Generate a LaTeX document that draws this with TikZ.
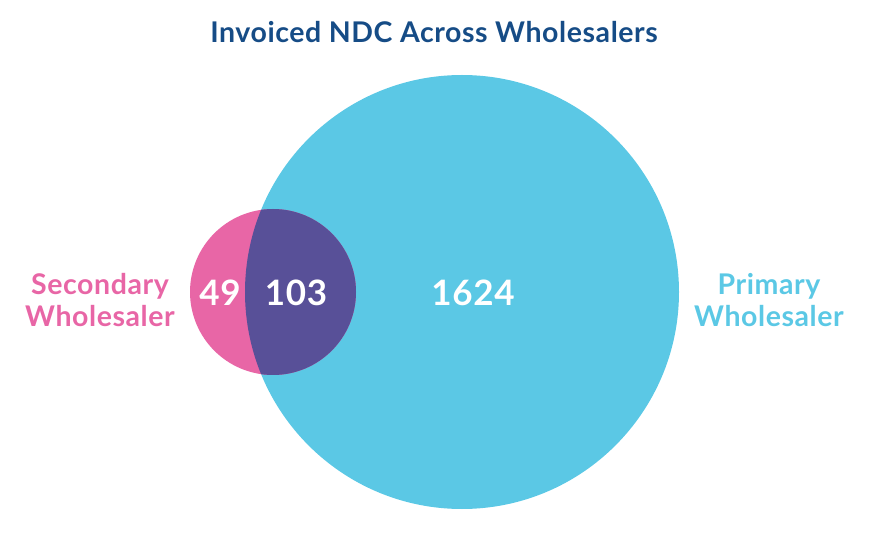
\documentclass[tikz,border=0pt]{standalone}
\usepackage{fontspec}
\setmainfont{Lato}[LetterSpace=2]
\usepackage{tikz}
\usetikzlibrary{positioning}
\definecolor{primblue}{RGB}{91,200,229}
\definecolor{secpink}{RGB}{232,102,166}
\definecolor{overlap}{RGB}{88,80,152}
\definecolor{titleblue}{RGB}{22,76,134}
\tikzset{
  label/.style={align=center, font=\fontsize{28.5}{32}\selectfont\bfseries, inner sep=0pt},
  count/.style={text=white, font=\fontsize{35}{36}\selectfont\bfseries, inner sep=0pt}
}

\begin{document}
\begin{tikzpicture}[x=1pt, y=-1pt]
\useasboundingbox (0,0) rectangle (876,537);
% circles
\fill[primblue] (462,292) circle (217);
\fill[secpink] (273,292) circle (83);
\begin{scope}
\clip (273,292) circle (83);
\fill[overlap] (462,292) circle (217);
\end{scope}
% title
\node[font=\fontsize{28.5}{32}\selectfont\bfseries, text=titleblue, inner sep=0pt] (title) at (434,32) {Invoiced NDC Across Wholesalers};
% labels
\node[label, text=secpink] (sec) at (100,300) {Secondary\\Wholesaler};
\node[label, text=primblue] (prim) at (769,300) {Primary\\Wholesaler};
% counts
\node[count] (onlysec) at (220,293) {49};
\node[count] (both) at (296,293) {103};
\node[count] (onlyprim) at (473,293) {1624};
\end{tikzpicture}
\end{document}
